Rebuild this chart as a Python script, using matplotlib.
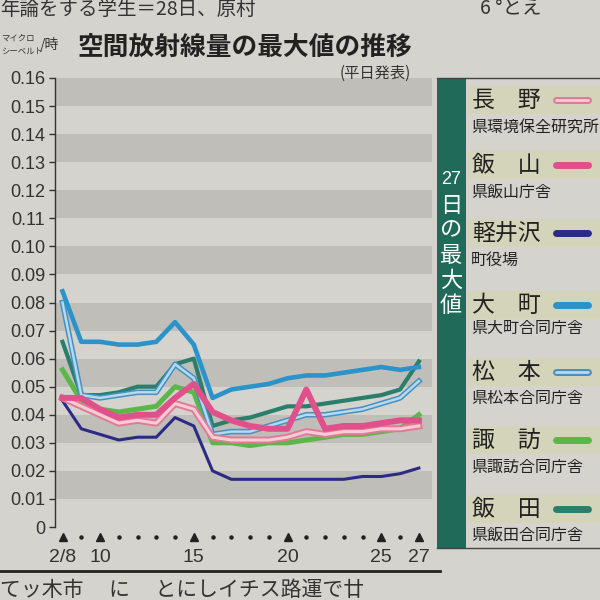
import numpy as np
import matplotlib.pyplot as plt
from matplotlib.patches import Rectangle

plt.rcParams['font.family'] = ['Noto Sans CJK JP', 'DejaVu Sans']

# days 2/8 .. 2/27
days = list(range(8, 28))

# values (microsievert/hour)
nagano    = [0.046, 0.043, 0.040, 0.037, 0.038, 0.037, 0.044, 0.042, 0.032, 0.031,
             0.031, 0.031, 0.032, 0.034, 0.033, 0.034, 0.034, 0.035, 0.035, 0.036]
iiyama    = [0.046, 0.046, 0.042, 0.039, 0.040, 0.040, 0.046, 0.051, 0.041, 0.038,
             0.036, 0.035, 0.035, 0.049, 0.035, 0.036, 0.036, 0.037, 0.038, 0.038]
karuizawa = [0.045, 0.035, 0.033, 0.031, 0.032, 0.032, 0.039, 0.036, 0.020, 0.017,
             0.017, 0.017, 0.017, 0.017, 0.017, 0.017, 0.018, 0.018, 0.019, 0.021]
omachi    = [0.084, 0.066, 0.066, 0.065, 0.065, 0.066, 0.073, 0.065, 0.046, 0.049,
             0.050, 0.051, 0.053, 0.054, 0.054, 0.055, 0.056, 0.057, 0.056, 0.057]
matsumoto = [0.080, 0.047, 0.046, 0.047, 0.048, 0.048, 0.058, 0.053, 0.033, 0.034,
             0.034, 0.036, 0.038, 0.040, 0.040, 0.041, 0.042, 0.044, 0.046, 0.052]
suwa      = [0.056, 0.045, 0.042, 0.041, 0.042, 0.043, 0.050, 0.048, 0.030, 0.030,
             0.029, 0.030, 0.030, 0.031, 0.032, 0.033, 0.033, 0.034, 0.035, 0.040]
iida      = [0.066, 0.047, 0.047, 0.048, 0.050, 0.050, 0.058, 0.060, 0.036, 0.038,
             0.039, 0.041, 0.043, 0.043, 0.044, 0.045, 0.046, 0.047, 0.049, 0.059]

tick_days = [8, 10, 15, 20, 25, 27]
tick_labels = ['2/8', '10', '15', '20', '25', '27']
yticks = [i / 100 for i in range(17)]
ylabels = ['0'] + ['%.2f' % v for v in yticks[1:]]

names = ['長　野', '飯　山', '軽井沢', '大　町', '松　本', '諏　訪', '飯　田']
places = ['県環境保全研究所', '県飯山庁舎', '町役場', '県大町合同庁舎',
          '県松本合同庁舎', '県諏訪合同庁舎', '県飯田合同庁舎']

paper = '#d5d3cd'
band = '#c0beb8'
num_font = 'Liberation Sans'

def fx(px):
    return px / 600

def fy(py):
    return 1 - py / 600

fig = plt.figure(figsize=(6, 6), dpi=100, facecolor=paper)
ax = fig.add_axes([fx(55), fy(527), fx(432) - fx(55), fy(78) - fy(527)])
ax.set_facecolor(paper)
for lo in np.arange(0.01, 0.16, 0.02):
    ax.axhspan(lo, lo + 0.01, color=band, lw=0, zorder=0)

# lines
ax.plot(days, karuizawa, color='#2b2b86', lw=2.2, zorder=3)
ax.plot(days, suwa, color='#5db64a', lw=3.6, zorder=3)
ax.plot(days, iida, color='#2a7f6c', lw=3.0, zorder=3)
ax.plot(days, matsumoto, color='#4a8fc0', lw=4.0, zorder=3)
ax.plot(days, matsumoto, color='#b3dbf0', lw=1.8, zorder=3)
ax.plot(days, omachi, color='#2b93c9', lw=3.3, zorder=3)
ax.plot(days, nagano, color='#e07a98', lw=5.0, zorder=4)
ax.plot(days, nagano, color='#f7ccd5', lw=2.2, zorder=4)
ax.plot(days, iiyama, color='#e0508a', lw=4.3, zorder=5)

ax.set_xlim(7.6, 27.7)
ax.set_ylim(0, 0.16)
for s in ['top', 'right', 'bottom']:
    ax.spines[s].set_visible(False)
ax.spines['left'].set_color('#333333')
ax.spines['left'].set_linewidth(1.0)
ax.set_yticks(yticks)
ax.set_yticklabels(ylabels, fontfamily=num_font, fontsize=13, color='#333333')
ax.tick_params(axis='y', length=4, width=1, color='#333333', pad=3)
ax.set_xticks([])

# x-axis day marks and labels
tr = ax.get_xaxis_transform()
for d in days:
    if d in tick_days:
        ax.plot(d, -0.022, marker='^', ms=6, color='#222222', transform=tr, clip_on=False)
    else:
        ax.plot(d, -0.022, marker='o', ms=2.2, color='#222222', transform=tr, clip_on=False)
for d, lab in zip(tick_days, tick_labels):
    ax.text(d, -0.068, lab, transform=tr, ha='center', va='center',
            fontfamily=num_font, fontsize=14, color='#333333')

# titles
fig.text(fx(78), fy(47), '空間放射線量の最大値の推移', fontsize=18.5, fontweight='bold',
         color='#222222', va='center', ha='left')
fig.text(fx(340), fy(73), '(平日発表)', fontsize=11, color='#333333', va='center', ha='left')
fig.text(fx(1), fy(38), 'マイクロ', fontsize=6, color='#333333', va='center', ha='left')
fig.text(fx(1), fy(51), 'シーベルト', fontsize=6, color='#333333', va='center', ha='left')
fig.text(fx(40), fy(45), '/時', fontsize=10, color='#333333', va='center', ha='left')

# newspaper fragments around the chart
fig.text(fx(0), fy(9), '年論をする学生＝28日、原村', fontsize=14, color='#333333', va='center', ha='left')
fig.text(fx(480), fy(9), '6 °とえ', fontsize=14, color='#333333', va='center', ha='left')
fig.text(fx(0), fy(590), 'てッ木市　 に　 とにしイチス路運で廿', fontsize=15, color='#333333',
         va='center', ha='left')
fig.add_artist(plt.Line2D([0, fx(440)], [fy(571), fy(571)], color='#222222', lw=2))

# legend panel
fig.add_artist(plt.Line2D([fx(437), 1], [fy(78), fy(78)], color='#444444', lw=1))
fig.add_artist(plt.Line2D([fx(437), 1], [fy(548), fy(548)], color='#444444', lw=1))
fig.add_artist(Rectangle((fx(437), fy(548)), fx(466) - fx(437), fy(78) - fy(548),
                         transform=fig.transFigure, color='#1f6a58', lw=0))
vert = ['27', '日', 'の', '最', '大', '値']
for i, ch in enumerate(vert):
    fig.text(fx(451), fy(180 + i * 25), ch, fontsize=13 if ch == '27' else 16,
             fontfamily=num_font if ch == '27' else None, color='white',
             ha='center', va='center')

name_y = [100, 165, 233, 305, 372, 440, 509]
place_y = [127, 192, 260, 328, 398, 467, 535]
sw_colors = [('#e07a98', '#f7ccd5'), ('#e0508a', None), ('#2b2b86', None),
             ('#2b93c9', None), ('#4a8fc0', '#b3dbf0'), ('#5db64a', None),
             ('#2a7f6c', None)]
for n, p, ny, py, (c1, c2) in zip(names, places, name_y, place_y, sw_colors):
    fig.add_artist(Rectangle((fx(468), fy(ny + 14)), 1, fy(ny - 14) - fy(ny + 14),
                             transform=fig.transFigure, color='#d2d6ac', lw=0, alpha=0.6))
    fig.text(fx(472), fy(ny), n, fontsize=16.5, color='#222222', ha='left', va='center')
    fig.text(fx(471), fy(py), p, fontsize=11.5, color='#222222', ha='left', va='center')
    fig.add_artist(plt.Line2D([fx(556), fx(588)], [fy(ny), fy(ny)], color=c1, lw=5,
                              solid_capstyle='round'))
    if c2:
        fig.add_artist(plt.Line2D([fx(556), fx(588)], [fy(ny), fy(ny)], color=c2, lw=2,
                                  solid_capstyle='round'))

fig.savefig('out.png', dpi=100, facecolor=paper)
